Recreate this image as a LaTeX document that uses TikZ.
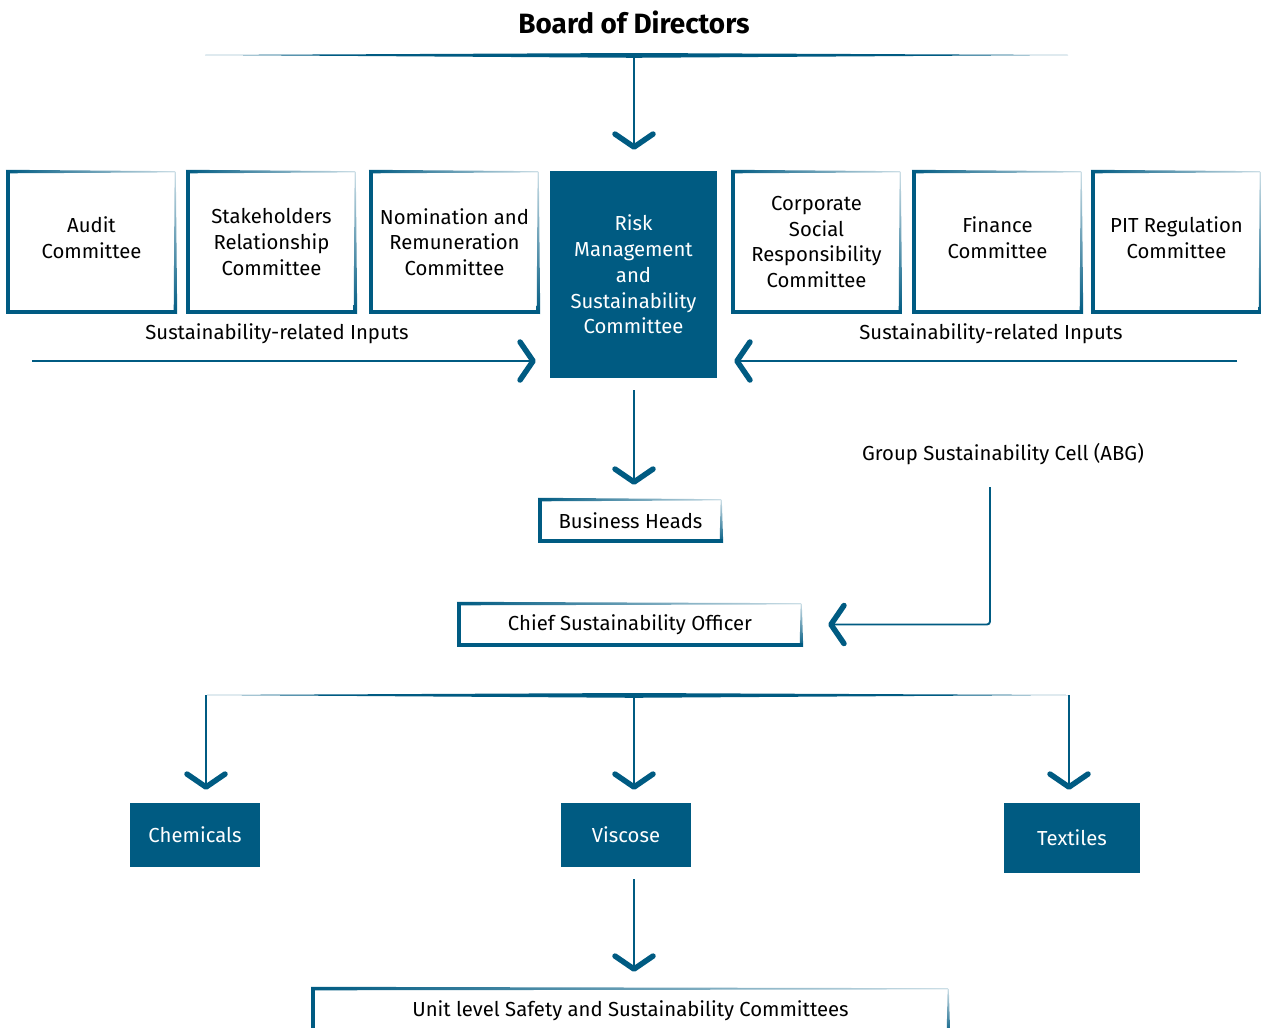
\documentclass[tikz,border=0pt]{standalone}
\usepackage{fontspec}
\setmainfont{Fira Sans}
\usetikzlibrary{arrows.meta,calc}
\definecolor{ink}{RGB}{0,91,130}
\newcommand\skframe[1]{%
  \fill[ink] ($(#1.north west)+(-2,-2)$) rectangle ($(#1.south west)+(2,2)$);
  \shade[left color=ink, right color=ink!20] ($(#1.north west)+(-2,-2)$) -- ($(#1.north east)+(0,-0.6)$) -- ($(#1.north east)+(0,0.6)$) -- ($(#1.north west)+(0,1.5)$) -- cycle;
  \shade[top color=ink!20, bottom color=ink] ($(#1.north east)+(-0.6,0)$) -- ($(#1.north east)+(0.6,0)$) -- ($(#1.south east)+(2,2)$) -- ($(#1.south east)+(-1.5,0)$) -- cycle;
  \fill[ink] ($(#1.south west)+(-2,-2)$) rectangle ($(#1.south east)+(2,2)$);
}
\newcommand\lift{\rule[-9pt]{0pt}{9pt}}
\begin{document}
\begin{tikzpicture}[x=1pt,y=-1pt,
  every node/.style={font=\fontsize{20.3}{25.7}\selectfont, inner sep=0pt},
  cbox/.style={minimum width=167pt, minimum height=140pt, align=center},
  fbox/.style={fill=ink, text=white, align=center},
  wbox/.style={align=center},
  conn/.style={draw=ink, line width=1.9pt, -{Straight Barb[length=13pt,width=38pt,line width=5.5pt,round]}}]
\useasboundingbox (0,0) rectangle (1261,1028);
\clip (0,0) rectangle (1261,1028);

% title and top line
\node[font=\fontsize{27.9}{32}\selectfont\bfseries] (board) at (634,22) {Board of Directors};
\coordinate (tl) at (205,55);
\coordinate (tm) at (634,55);
\coordinate (tr) at (1068,55);
\fill[ink] (tl) -- (634,53) -- (tr) -- (634,57.8) -- cycle;

% committees
\node[cbox] (audit) at (91.5,242) {Audit\\Committee\lift};
\node[cbox] (stake) at (271.5,242) {Stakeholders\\Relationship\\Committee};
\node[cbox] (nom) at (454.5,242) {Nomination and\\Remuneration\\Committee};
\node[fbox, minimum width=167pt, minimum height=207pt] (risk) at (633.5,274.5) {Risk\\Management\\and\\Sustainability\\Committee};
\node[cbox] (csr) at (816.5,242) {Corporate\\Social\\Responsibility\\Committee};
\node[cbox] (fin) at (997.5,242) {Finance\\Committee\lift};
\node[cbox] (pit) at (1176.5,242) {PIT Regulation\\Committee\lift};
\foreach \n in {audit,stake,nom,csr,fin,pit} {\skframe{\n}}

\node (inl) at (277,334) {Sustainability-related Inputs};
\node (inr) at (991,334) {Sustainability-related Inputs};
\coordinate (li) at (32,361);
\coordinate (ri) at (1237,361);

\node[wbox, minimum width=181pt, minimum height=41pt] (bh) at (630.5,520.5) {Business Heads};
\node[wbox, minimum width=342pt, minimum height=41pt] (cso) at (630,624.5) {Chief Sustainability Officer};
\node (gsc) at (1003,454) {Group Sustainability Cell (ABG)};
\coordinate (g1) at (990,487);
\skframe{bh}
\skframe{cso}

\coordinate (bl) at (206,695);
\coordinate (bm) at (634,695);
\coordinate (br) at (1069,695);
\fill[ink] (205,695) -- (634,693) -- (1068,695) -- (634,697.8) -- cycle;

\node[fbox, minimum width=130pt, minimum height=64pt] (chem) at (195,835) {Chemicals};
\node[fbox, minimum width=130pt, minimum height=64pt] (visc) at (626,835) {Viscose};
\node[fbox, minimum width=136pt, minimum height=70pt] (tex) at (1072,838) {Textiles};

\node[wbox, minimum width=635pt, minimum height=44pt] (unit) at (630.5,1011) {Unit level Safety and Sustainability Committees};
\skframe{unit}

% connectors
\draw[conn, shorten >=21pt] (tm) -- (tm |- risk.north);
\draw[conn, shorten >=14pt] (li) -- (li -| risk.west);
\draw[conn, shorten >=17pt] (ri) -- (ri -| risk.east);
\draw[conn, shorten <=12pt, shorten >=15pt] (tm |- risk.south) -- (tm |- bh.north);
\draw[conn, rounded corners=3pt, shorten >=27pt] (g1) |- (cso.east);
\draw[conn, shorten >=13pt] (bl) -- (bl |- chem.north);
\draw[conn, shorten >=13pt] (bm) -- (bm |- visc.north);
\draw[conn, shorten >=13pt] (br) -- (br |- tex.north);
\draw[conn, shorten <=12pt, shorten >=17pt] (visc.south -| bm) -- (bm |- unit.north);
\end{tikzpicture}
\end{document}
